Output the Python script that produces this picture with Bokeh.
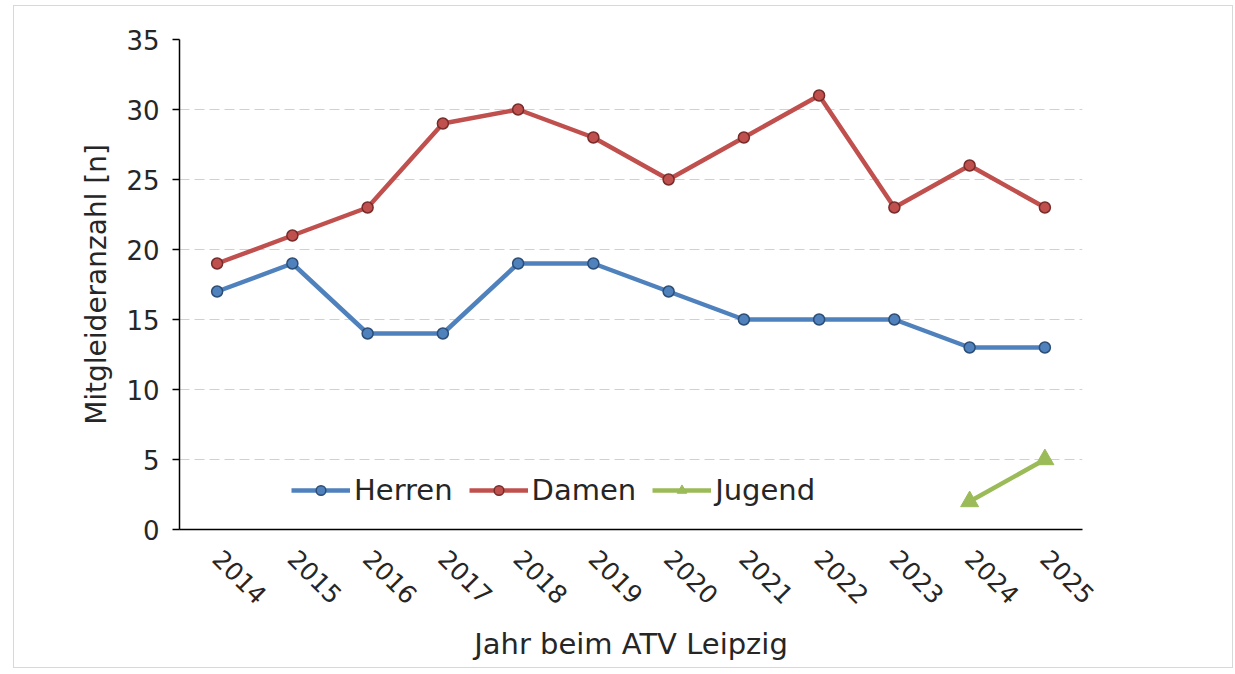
import math
from bokeh.plotting import figure
from bokeh.models import Range1d, Legend, LegendItem, FactorRange
from bokeh.embed import file_html
from bokeh.resources import INLINE

years = ["2014", "2015", "2016", "2017", "2018", "2019", "2020", "2021", "2022", "2023", "2024", "2025"]
herren = [17, 19, 14, 14, 19, 19, 17, 15, 15, 15, 13, 13]
damen = [19, 21, 23, 29, 30, 28, 25, 28, 31, 23, 26, 23]
jugend_years = ["2024", "2025"]
jugend = [2, 5]
y_ticks = [0, 5, 10, 15, 20, 25, 30, 35]

FONT = "DejaVu Sans"
TXT = "#262626"

p = figure(x_range=FactorRange(*years), y_range=Range1d(0, 35),
           width=1218, height=661, output_backend="svg", toolbar_location=None,
           min_border_left=165, min_border_top=33, min_border_right=150, min_border_bottom=138)
p.frame_width = 903
p.frame_height = 490
p.margin = (5, 0, 0, 13)
p.outline_line_color = None
p.styles = {"border": "1px solid #d8d8d8"}

p.xgrid.grid_line_color = None
p.ygrid.grid_line_color = "#d0d0d0"
p.ygrid.grid_line_dash = "10 5"
p.ygrid.grid_line_width = 1

p.yaxis.ticker = y_ticks
p.yaxis.axis_line_color = "black"
p.yaxis.axis_line_width = 1.5
p.yaxis.major_tick_line_color = "black"
p.yaxis.major_tick_line_width = 1.5
p.yaxis.major_tick_out = 7
p.yaxis.major_tick_in = 0
p.yaxis.minor_tick_line_color = None
p.yaxis.major_label_text_font = FONT
p.yaxis.major_label_text_font_size = "26px"
p.yaxis.major_label_text_color = TXT
p.yaxis.major_label_standoff = 13
p.yaxis.axis_label = "Mitgleideranzahl [n]"
p.yaxis.axis_label_text_font = FONT
p.yaxis.axis_label_text_font_style = "normal"
p.yaxis.axis_label_text_font_size = "28px"
p.yaxis.axis_label_text_color = TXT
p.yaxis.axis_label_standoff = 10

p.xaxis.axis_line_color = "black"
p.xaxis.axis_line_width = 1.5
p.xaxis.major_tick_line_color = None
p.xaxis.minor_tick_line_color = None
p.xaxis.major_label_orientation = -math.pi / 4
p.xaxis.major_label_text_font = FONT
p.xaxis.major_label_text_font_size = "25px"
p.xaxis.major_label_text_color = TXT
p.xaxis.major_label_standoff = 19
p.xaxis.axis_label = "Jahr beim ATV Leipzig"
p.xaxis.axis_label_text_font = FONT
p.xaxis.axis_label_text_font_style = "normal"
p.xaxis.axis_label_text_font_size = "29px"
p.xaxis.axis_label_text_color = TXT
p.xaxis.axis_label_standoff = 12

lh = p.line(years, herren, line_color="#4F81BD", line_width=4.5)
ch = p.scatter(years, herren, marker="circle", size=11, fill_color="#4F81BD",
               line_color="#2C4D75", line_width=1.5)
ld = p.line(years, damen, line_color="#C0504D", line_width=4.5)
cd = p.scatter(years, damen, marker="circle", size=11, fill_color="#C0504D",
               line_color="#772C2A", line_width=1.5)
lj = p.line(jugend_years, jugend, line_color="#9BBB59", line_width=4.5)
cj = p.scatter(jugend_years, jugend, marker="triangle", size=18, fill_color="#9BBB59",
               line_color="#9BBB59", line_width=1)

legend = Legend(items=[
    LegendItem(label="Herren", renderers=[lh, ch]),
    LegendItem(label="Damen", renderers=[ld, cd]),
    LegendItem(label="Jugend", renderers=[lj, cj]),
], orientation="horizontal", location=(112, 22))
legend.label_text_font = FONT
legend.label_text_font_size = "29px"
legend.label_text_color = TXT
legend.glyph_width = 59
legend.glyph_height = 24
legend.label_standoff = 4
legend.spacing = 16
legend.padding = 0
legend.margin = 0
legend.border_line_color = None
legend.background_fill_alpha = 0
p.add_layout(legend)

open("out.html", "w").write(file_html(p, INLINE))
